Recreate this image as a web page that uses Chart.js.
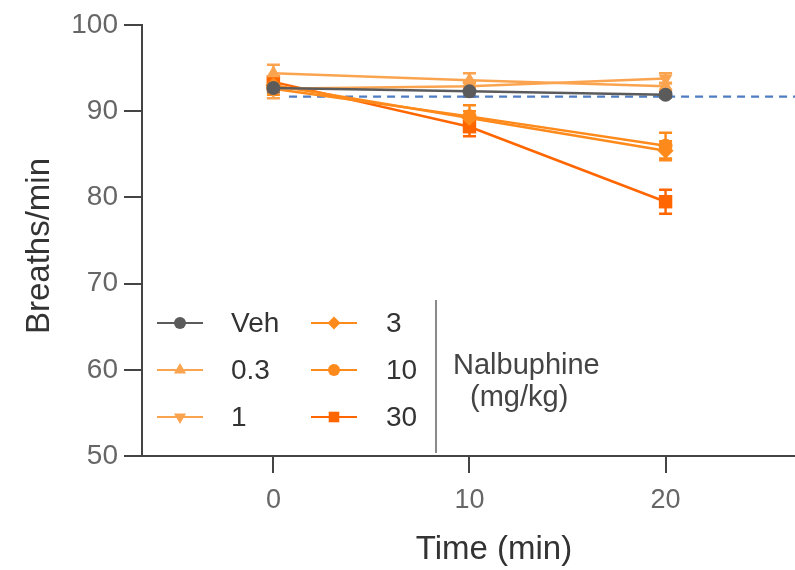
<!DOCTYPE html>
<html>
<head>
<meta charset="utf-8">
<script src="https://cdn.jsdelivr.net/npm/chart.js@4.4.1/dist/chart.umd.min.js"></script>
<style>
  html, body { margin: 0; padding: 0; background: #fff; }
  #wrap { width: 795px; height: 570px; position: relative; }
</style>
</head>
<body>
<div id="wrap"><canvas id="c"></canvas></div>
<script>
// ---- data ----
const times = [0, 10, 20];
const xTicks = [0, 10, 20];
const yTicks = [50, 60, 70, 80, 90, 100];
const seriesLabels = ['Veh', '0.3', '1', '3', '10', '30'];
const legendTitle = ['Nalbuphine', '(mg/kg)'];
const xTitle = 'Time (min)';
const yTitle = 'Breaths/min';

const veh = [92.7, 92.3, 91.9];
const vehSem = [0.5, 0.6, 0.3];
const dose03 = [94.4, 93.6, 92.9];
const dose03Sem = [1.0, 0.8, 0.4];
const dose1 = [92.6, 92.9, 93.8];
const dose1Sem = [1.1, 0.5, 0.6];
const dose3 = [93.0, 89.2, 85.4];
const dose3Sem = [0.6, 0.8, 1.1];
const dose10 = [92.6, 89.4, 86.0];
const dose10Sem = [0.7, 1.3, 1.5];
const dose30 = [93.4, 88.2, 79.5];
const dose30Sem = [0.5, 1.1, 1.4];

const baselineValue = 91.7;
const baselineFrom = 0.8;
const xMin = -6.7;
const xMax = 26.6;

// ---- styles ----
const colors = ['#5b5b5b', '#fba450', '#fba450', '#ff8a1c', '#ff8a1c', '#ff6600'];
const styles = ['circle', 'triangle', 'triangle', 'rectRot', 'circle', 'rect'];
const rotations = [0, 0, 180, 0, 0, 0];
const radii = [7, 8, 8, 8, 7, 9.5];
const legendRadii = [6, 7, 7, 6.5, 6, 7.5];
const FONT = '"Liberation Sans", Arial, Helvetica, sans-serif';

const allValues = [veh, dose03, dose1, dose3, dose10, dose30];
const allSems = [vehSem, dose03Sem, dose1Sem, dose3Sem, dose10Sem, dose30Sem];

const datasets = allValues.map((vals, i) => ({
  label: seriesLabels[i],
  data: times.map((t, j) => ({ x: t, y: vals[j] })),
  errors: allSems[i],
  borderColor: colors[i],
  backgroundColor: colors[i],
  borderWidth: 2.5,
  pointStyle: styles[i],
  pointRotation: rotations[i],
  pointRadius: radii[i],
  pointBorderWidth: 0,
  pointBackgroundColor: colors[i],
  tension: 0,
  order: 0
}));
datasets.push({
  label: 'baseline',
  data: [{ x: baselineFrom, y: baselineValue }, { x: xMax, y: baselineValue }],
  borderColor: '#4f7dc2',
  borderWidth: 2.2,
  borderDash: [8, 6],
  pointRadius: 0,
  order: 1
});

const errorBars = {
  id: 'errorBars',
  beforeDatasetsDraw(chart) {
    const ctx = chart.ctx;
    const ys = chart.scales.y, xs = chart.scales.x;
    ctx.save();
    chart.data.datasets.forEach((ds) => {
      if (!ds.errors) return;
      ctx.strokeStyle = ds.borderColor;
      ctx.lineWidth = 2.5;
      ds.data.forEach((p, j) => {
        const e = ds.errors[j];
        const x = xs.getPixelForValue(p.x);
        const y1 = ys.getPixelForValue(p.y + e);
        const y2 = ys.getPixelForValue(p.y - e);
        ctx.beginPath();
        ctx.moveTo(x, y1); ctx.lineTo(x, y2);
        ctx.moveTo(x - 6.5, y1); ctx.lineTo(x + 6.5, y1);
        ctx.moveTo(x - 6.5, y2); ctx.lineTo(x + 6.5, y2);
        ctx.stroke();
      });
    });
    ctx.restore();
  }
};

const customLegend = {
  id: 'customLegend',
  afterDraw(chart) {
    const ctx = chart.ctx;
    const rowsY = [323, 370, 417];
    const cols = [{ l: 157, r: 203, t: 231 }, { l: 311, r: 357, t: 386 }];
    ctx.save();
    seriesLabels.forEach((lab, i) => {
      const col = cols[Math.floor(i / 3)];
      const y = rowsY[i % 3];
      ctx.strokeStyle = colors[i];
      ctx.lineWidth = 2;
      ctx.beginPath();
      ctx.moveTo(col.l, y); ctx.lineTo(col.r, y);
      ctx.stroke();
      ctx.fillStyle = colors[i];
      Chart.helpers.drawPoint(ctx, {
        pointStyle: styles[i], rotation: rotations[i], radius: legendRadii[i], borderWidth: 0
      }, (col.l + col.r) / 2, y);
      ctx.fillStyle = '#333';
      ctx.font = '28px ' + FONT;
      ctx.textAlign = 'left';
      ctx.textBaseline = 'middle';
      ctx.fillText(lab, col.t, y + 1);
    });
    // divider
    ctx.strokeStyle = '#8a8a8a';
    ctx.lineWidth = 2;
    ctx.beginPath();
    ctx.moveTo(436, 300); ctx.lineTo(436, 453);
    ctx.stroke();
    ctx.fillStyle = '#444';
    ctx.font = '29px ' + FONT;
    ctx.textBaseline = 'middle';
    ctx.fillText(legendTitle[0], 453, 366);
    ctx.fillText(legendTitle[1], 470, 398);

    // axis titles
    ctx.fillStyle = '#333';
    ctx.font = '33px ' + FONT;
    ctx.textAlign = 'center';
    ctx.textBaseline = 'alphabetic';
    ctx.fillText(xTitle, 494, 559);
    ctx.translate(49, 246);
    ctx.rotate(-Math.PI / 2);
    ctx.fillText(yTitle, 0, 0);
    ctx.restore();
  }
};

new Chart(document.getElementById('c'), {
  type: 'line',
  data: { datasets },
  plugins: [errorBars, customLegend],
  options: {
    responsive: true,
    maintainAspectRatio: false,
    animation: false,
    layout: { autoPadding: false, padding: { top: 25, right: 0, left: 0, bottom: 0 } },
    plugins: { legend: { display: false }, tooltip: { enabled: false } },
    scales: {
      x: {
        type: 'linear',
        min: xMin, max: xMax,
        afterFit(s) { s.height = 114; },
        afterBuildTicks(s) { s.ticks = xTicks.map(v => ({ value: v })); },
        grid: { drawOnChartArea: false, color: '#444', lineWidth: 2, tickLength: 17 },
        border: { display: true, color: '#444', width: 2 },
        ticks: { color: '#666', font: { family: FONT, size: 27 }, padding: 11, maxRotation: 0 },
        title: { display: false }
      },
      y: {
        type: 'linear',
        min: 50, max: 100,
        afterFit(s) { s.width = 142; },
        afterBuildTicks(s) { s.ticks = yTicks.map(v => ({ value: v })); },
        grid: { drawOnChartArea: false, color: '#444', lineWidth: 2, tickLength: 18 },
        border: { display: true, color: '#444', width: 2 },
        ticks: { color: '#666', font: { family: FONT, size: 28 }, padding: 6 },
        title: { display: false }
      }
    }
  }
});
</script>
</body>
</html>
